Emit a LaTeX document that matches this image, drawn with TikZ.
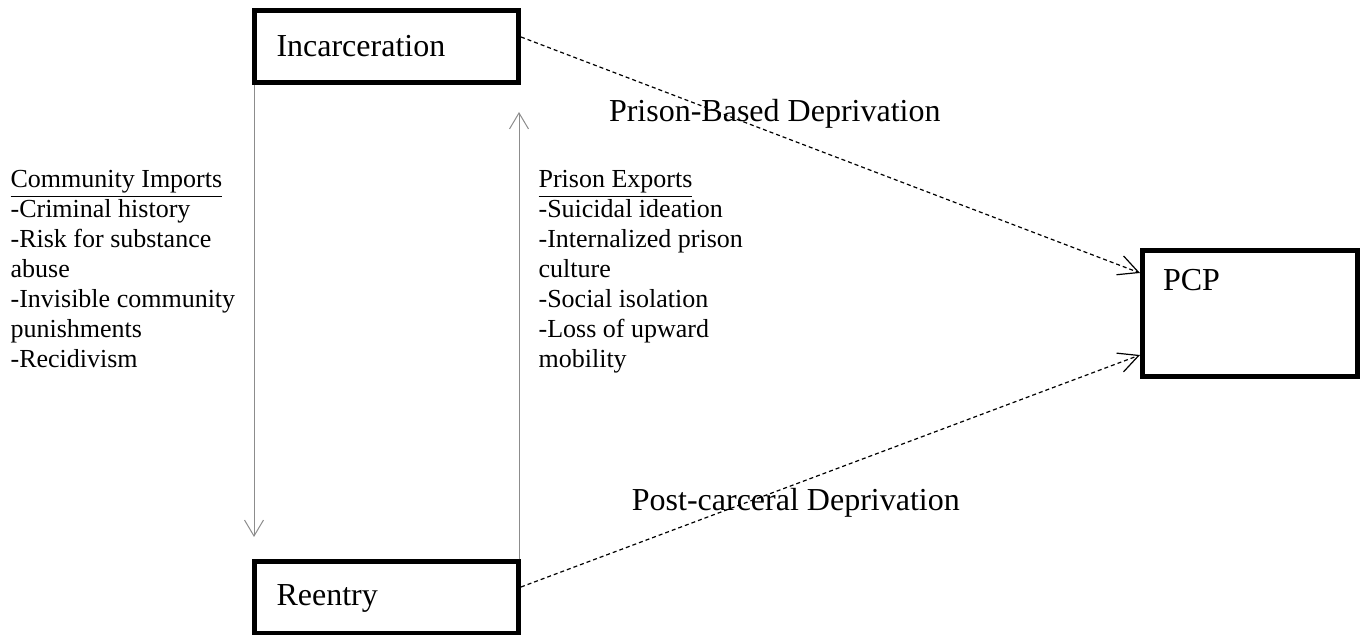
\documentclass[tikz,border=0pt]{standalone}
\usepackage{fontspec}
\setmainfont{Liberation Serif}
\usetikzlibrary{arrows.meta,positioning}

\begin{document}
\begin{tikzpicture}[x=0.5pt,y=-0.5pt]
        \tikzstyle{every path}=[line width=0.6pt]
        
        \tikzstyle{stagebox}=[draw,line width=2.5pt,inner xsep=11pt,inner ysep=0pt,
        minimum height=36pt,text width=110pt,align=left,font=\fontsize{16}{19}\selectfont]
        \tikzstyle{listtext}=[anchor=north west,inner sep=0pt,align=left,
        font=\fontsize{13}{15}\selectfont]
        \tikzstyle{flowarrow}=[draw=black!45,line width=0.5pt,
        -{Straight Barb[length=8pt,width=9.5pt]}]
        \tikzstyle{deprarrow}=[draw,dashed,dash pattern=on 2pt off 1.5pt,
        -{Straight Barb[length=10pt,width=10pt]}]
        
        \useasboundingbox (0,0) rectangle (1361,635);
        
        %% Stages
        \node[stagebox] (incarceration) at (386.5,46.5) {Incarceration};
        \node[stagebox] (reentry) at (386.5,598) {Reentry};
        \node[draw,line width=2.5pt,minimum width=107.5pt,minimum height=63pt] (pcp) at (1250,313.5) {};
        \node[inner sep=0pt,font=\fontsize{16}{19}\selectfont,
        below right=10.5pt and 11.25pt of pcp.north west] (pcptext) {PCP};
        
        %% Imports and exports
        \coordinate (importstart) at ([xshift=1pt]incarceration.south west);
        \coordinate (exportstart) at ([xshift=-1pt]reentry.north east);
        \path (0,537) coordinate (importlevel) (0,112) coordinate (exportlevel);
        \coordinate (importtip) at (importstart |- importlevel);
        \coordinate (exporttip) at (exportstart |- exportlevel);
        \path[flowarrow] (importstart) -- (importtip);
        \path[flowarrow] (exportstart) -- (exporttip);
        
        \node[listtext] (imports) at (10,170)
        	{\underline{Community Imports}\\-Criminal history\\-Risk for substance\\abuse\\
        	-Invisible community\\punishments\\-Recidivism};
        \node[listtext] (exports) at (538,170)
        	{\underline{Prison Exports}\\-Suicidal ideation\\-Internalized prison\\culture\\
        	-Social isolation\\-Loss of upward\\mobility};
        
        %% Deprivation paths to PCP
        \path[deprarrow] ([yshift=4.75pt]incarceration.east) -- node[pos=.41,yshift=10pt,
        			font=\fontsize{16}{19}\selectfont] (prisonlabel)
        			{Prison-Based Deprivation}
        			([yshift=20.25pt]pcp.west);
        \path[deprarrow] ([yshift=5.5pt]reentry.east) -- node[pos=.444,yshift=-9.5pt,
        			font=\fontsize{16}{19}\selectfont] (postlabel)
        			{Post-carceral Deprivation}
        			([yshift=-20.75pt]pcp.west);
        
    \end{tikzpicture}
\end{document}
